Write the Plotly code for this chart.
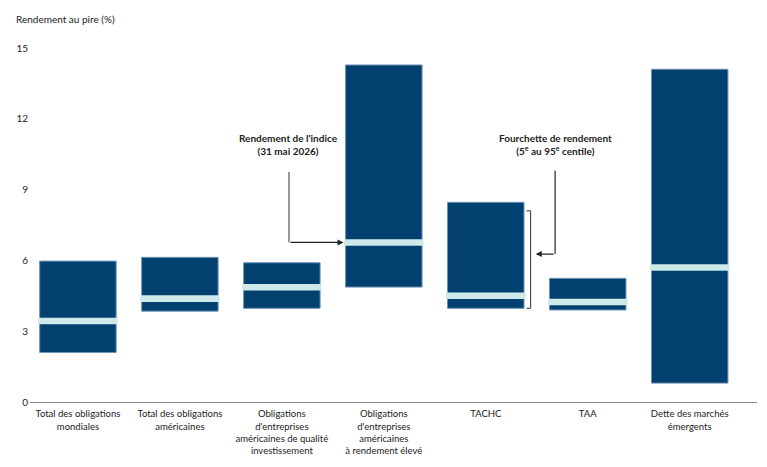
import plotly.graph_objects as go

categories = [
    "Total des obligations<br>mondiales",
    "Total des obligations<br>américaines",
    "Obligations<br>d'entreprises<br>américaines de qualité<br>investissement",
    "Obligations<br>d'entreprises<br>américaines<br>à rendement élevé",
    "TACHC",
    "TAA",
    "Dette des marchés<br>émergents",
]
low = [2.1, 3.85, 3.97, 4.87, 3.97, 3.9, 0.8]
high = [5.97, 6.13, 5.9, 14.28, 8.46, 5.24, 14.1]
index_yield = [3.43, 4.38, 4.86, 6.76, 4.5, 4.24, 5.7]
y_ticks = [0, 3, 6, 9, 12, 15]

NAVY = "#01406f"
LIGHT = "#cde9ea"
FONT = "Lato"
x = list(range(len(categories)))
BAR_W = 0.75
BAND_H = 0.28

fig = go.Figure()
fig.add_trace(go.Bar(
    x=x, y=[h - l for h, l in zip(high, low)], base=low, width=BAR_W,
    marker=dict(color=NAVY, line=dict(color="#6d92b8", width=1)),
    hoverinfo="skip", showlegend=False,
))
fig.add_trace(go.Bar(
    x=x, y=[BAND_H] * len(x), base=[v - BAND_H / 2 for v in index_yield],
    width=BAR_W + 0.03, marker=dict(color=LIGHT, line=dict(width=0)),
    hoverinfo="skip", showlegend=False,
))

# Annotation: index yield (pointing at high-yield bar)
hy = 3
xa = 2.07
fig.add_shape(type="line", x0=xa, x1=xa, y0=9.75, y1=index_yield[hy],
              line=dict(color="#555", width=1.2))
fig.add_annotation(x=hy - BAR_W / 2 - 0.02, y=index_yield[hy], ax=xa, ay=index_yield[hy],
                   xref="x", yref="y", axref="x", ayref="y", text="",
                   showarrow=True, arrowhead=2, arrowsize=1, arrowwidth=1.2, arrowcolor="#222")
fig.add_annotation(x=xa, y=10.9, xref="x", yref="y",
                   text="<b>Rendement de l'indice<br>(31 mai 2026)</b>", showarrow=False,
                   font=dict(family=FONT, size=10, color="#222"), align="center")

# Annotation: range (bracket at TACHC)
t = 4
xb = 4.44
br_top = 8.1
fig.add_shape(type="path",
              path=f"M {xb-0.04},{br_top} L {xb},{br_top} L {xb},{low[t]} L {xb-0.04},{low[t]}",
              line=dict(color="#333", width=1))
xf = 4.68
yf = 6.27
fig.add_shape(type="line", x0=xf, x1=xf, y0=9.8, y1=yf, line=dict(color="#222", width=1.2))
fig.add_annotation(x=xb + 0.05, y=yf, ax=xf, ay=yf,
                   xref="x", yref="y", axref="x", ayref="y", text="",
                   showarrow=True, arrowhead=2, arrowsize=1, arrowwidth=1.2, arrowcolor="#222")
fig.add_annotation(x=xf, y=10.9, xref="x", yref="y",
                   text="<b>Fourchette de rendement<br>(5<sup>e</sup> au 95<sup>e</sup> centile)</b>",
                   showarrow=False, font=dict(family=FONT, size=10, color="#222"), align="center")

# Y-axis title
fig.add_annotation(x=-0.022, y=1.083, xref="paper", yref="paper", xanchor="left", yanchor="middle",
                   text="Rendement au pire (%)", showarrow=False,
                   font=dict(family=FONT, size=10, color="#222"))

fig.update_layout(
    width=767, height=467,
    margin=dict(l=30, r=10, t=48, b=65),
    plot_bgcolor="white", paper_bgcolor="white",
    barmode="overlay", bargap=0.25,
    font=dict(family=FONT, size=10, color="#222"),
    xaxis=dict(tickvals=x, ticktext=categories, range=[-0.47, 6.66],
               showgrid=False, zeroline=False, showline=True, linecolor="#888", linewidth=1,
               ticks="", tickfont=dict(size=9.5), ticklabelstandoff=3, fixedrange=True),
    yaxis=dict(range=[0, 15], tickvals=y_ticks, showgrid=False, zeroline=False,
               showline=False, ticks="", tickfont=dict(size=10), ticklabelstandoff=1,
               fixedrange=True),
)

fig.write_html("out.html")
